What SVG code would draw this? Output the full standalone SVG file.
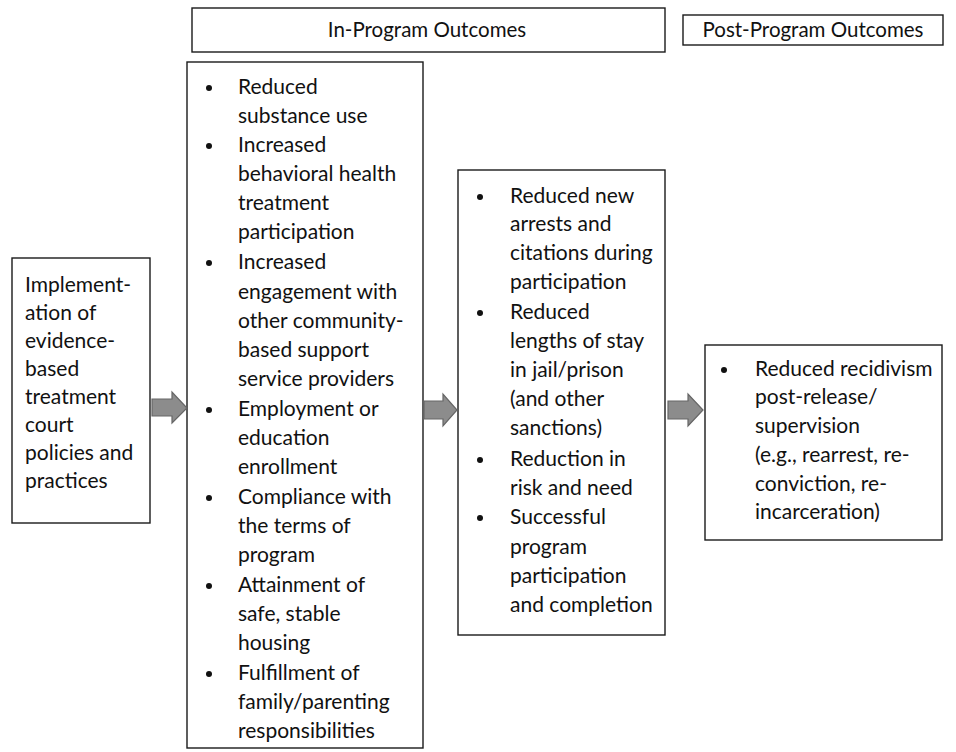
<svg xmlns="http://www.w3.org/2000/svg" width="956" height="752" viewBox="0 0 956 752">
<defs>
<style>
.box{fill:#fff;stroke:#1a1a1a;stroke-width:1.4}
.t{font-family:Lato,"Liberation Sans",sans-serif;font-size:21px;fill:#111}
.h{font-family:Lato,"Liberation Sans",sans-serif;font-size:20.5px;fill:#111;text-anchor:middle}
.b{fill:#111}
.arr{fill:#8c8c8c;stroke:#666;stroke-width:1.2}
</style>
</defs>
<rect width="956" height="752" fill="#fff"/>
<g id="hdr-in">
<rect class="box" x="192" y="8" width="473" height="44"/>
<text class="h" x="427" y="37">In-Program Outcomes</text>
</g>
<g id="hdr-post">
<rect class="box" x="683" y="15" width="260" height="30"/>
<text class="h" x="813" y="37">Post-Program Outcomes</text>
</g>
<g id="n-impl">
<rect class="box" x="12" y="258" width="138" height="265"/>
<g class="t">
<text x="25" y="292">Implement-</text>
<text x="25" y="320">ation of</text>
<text x="25" y="348">evidence-</text>
<text x="25" y="376">based</text>
<text x="25" y="404">treatment</text>
<text x="25" y="432">court</text>
<text x="25" y="460">policies and</text>
<text x="25" y="488">practices</text>
</g>
</g>
<g id="n-inprog">
<rect class="box" x="187" y="62" width="236" height="686"/>
<g class="b">
<circle cx="209" cy="88" r="3"/>
<circle cx="209" cy="146" r="3"/>
<circle cx="209" cy="263" r="3"/>
<circle cx="209" cy="410" r="3"/>
<circle cx="209" cy="498" r="3"/>
<circle cx="209" cy="586" r="3"/>
<circle cx="209" cy="674" r="3"/>
</g>
<g class="t">
<text x="238" y="94">Reduced</text>
<text x="238" y="123">substance use</text>
<text x="238" y="152">Increased</text>
<text x="238" y="181">behavioral health</text>
<text x="238" y="210">treatment</text>
<text x="238" y="239">participation</text>
<text x="238" y="269">Increased</text>
<text x="238" y="299">engagement with</text>
<text x="238" y="328">other community-</text>
<text x="238" y="357">based support</text>
<text x="238" y="386">service providers</text>
<text x="238" y="416">Employment or</text>
<text x="238" y="445">education</text>
<text x="238" y="474">enrollment</text>
<text x="238" y="504">Compliance with</text>
<text x="238" y="533">the terms of</text>
<text x="238" y="562">program</text>
<text x="238" y="592">Attainment of</text>
<text x="238" y="621">safe, stable</text>
<text x="238" y="650">housing</text>
<text x="238" y="680">Fulfillment of</text>
<text x="238" y="709">family/parenting</text>
<text x="238" y="738">responsibilities</text>
</g>
</g>
<g id="n-during">
<rect class="box" x="458" y="170" width="207" height="465"/>
<g class="b">
<circle cx="480" cy="197" r="3"/>
<circle cx="480" cy="313" r="3"/>
<circle cx="480" cy="460" r="3"/>
<circle cx="480" cy="518" r="3"/>
</g>
<g class="t">
<text x="510" y="203">Reduced new</text>
<text x="510" y="231">arrests and</text>
<text x="510" y="260">citations during</text>
<text x="510" y="289">participation</text>
<text x="510" y="319">Reduced</text>
<text x="510" y="348">lengths of stay</text>
<text x="510" y="377">in jail/prison</text>
<text x="510" y="406">(and other</text>
<text x="510" y="435">sanctions)</text>
<text x="510" y="466">Reduction in</text>
<text x="510" y="495">risk and need</text>
<text x="510" y="524">Successful</text>
<text x="510" y="554">program</text>
<text x="510" y="583">participation</text>
<text x="510" y="612">and completion</text>
</g>
</g>
<g id="n-post">
<rect class="box" x="705" y="345" width="237" height="195"/>
<circle class="b" cx="724" cy="370" r="3"/>
<g class="t">
<text x="755" y="376">Reduced recidivism</text>
<text x="755" y="404">post-release/</text>
<text x="755" y="433">supervision</text>
<text x="755" y="462">(e.g., rearrest, re-</text>
<text x="755" y="491">conviction, re-</text>
<text x="755" y="519">incarceration)</text>
</g>
</g>
<g id="connectors">
<path class="arr" d="M152,399 H172 V392 L187,408 L172,423 V416 H152 Z"/>
<path class="arr" d="M424,401 H443 V394 L457,410 L443,426 V419 H424 Z"/>
<path class="arr" d="M668,401 H688 V394 L703,410 L688,426 V419 H668 Z"/>
</g>
</svg>
